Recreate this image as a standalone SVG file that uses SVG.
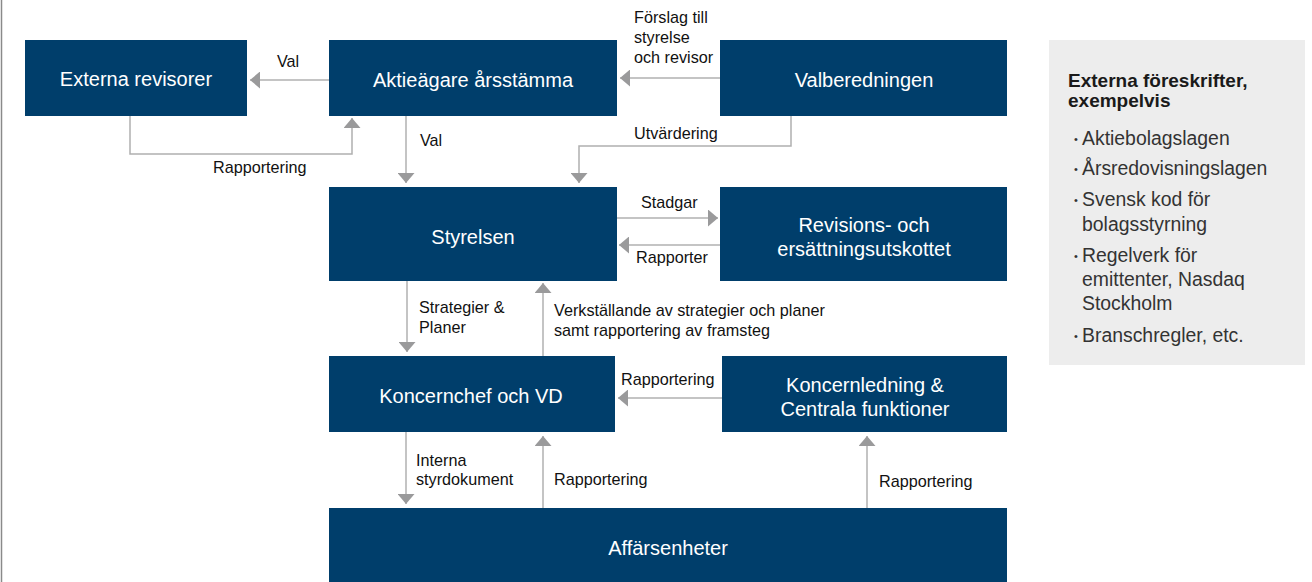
<svg xmlns="http://www.w3.org/2000/svg" width="1312" height="582" viewBox="0 0 1312 582">
<style>
.box{fill:#003e6b}
.bt{font-family:"Liberation Sans",Arial,sans-serif;font-size:20px;fill:#ffffff;text-anchor:middle}
.lb{font-family:"Liberation Sans",Arial,sans-serif;font-size:16.2px;fill:#111111}
.con{fill:none;stroke:#b0b0b0;stroke-width:1.5;marker-end:url(#ah)}
.pt{font-family:"Liberation Sans",Arial,sans-serif;font-size:19px;fill:#1a1a1a;font-weight:bold}
.pb{font-family:"Liberation Sans",Arial,sans-serif;font-size:19.4px;fill:#333333}
.dot{font-family:"Liberation Sans",Arial,sans-serif;font-size:11px;fill:#333333}
</style>
<defs>
<marker id="ah" viewBox="0 0 10 17" markerWidth="10" markerHeight="17" refX="10" refY="8.5" orient="auto" markerUnits="userSpaceOnUse">
<path d="M0,0 L10,8.5 L0,17 Z" fill="#9a9a9b"/>
</marker>
</defs>
<rect x="0" y="0" width="1312" height="582" fill="#ffffff"/>
<line x1="1.5" y1="0" x2="1.5" y2="582" stroke="#8a8a8a" stroke-width="1.5"/>

<g id="connectors">
<path class="con" d="M329,80 L250,80"/>
<path class="con" d="M720,78 L620,78"/>
<path class="con" d="M130,116 L130,154 L352,154 L352,118"/>
<path class="con" d="M406,116 L406,183"/>
<path class="con" d="M791,116 L791,146 L579,146 L579,183"/>
<path class="con" d="M617,218 L718,218"/>
<path class="con" d="M720,245 L619,245"/>
<path class="con" d="M407,281 L407,352"/>
<path class="con" d="M543,356 L543,283"/>
<path class="con" d="M722,398 L618,398"/>
<path class="con" d="M406,432 L406,504"/>
<path class="con" d="M543,508 L543,436"/>
<path class="con" d="M867,508 L867,436"/>
<text class="lb" x="277" y="67">Val</text>
<text class="lb" x="213" y="173">Rapportering</text>
<text class="lb" x="420" y="146">Val</text>
<text class="lb" x="634" y="23">Förslag till</text>
<text class="lb" x="634" y="43">styrelse</text>
<text class="lb" x="634" y="63">och revisor</text>
<text class="lb" x="634" y="139">Utvärdering</text>
<text class="lb" x="641" y="208">Stadgar</text>
<text class="lb" x="636" y="263">Rapporter</text>
<text class="lb" x="419" y="313">Strategier &amp;</text>
<text class="lb" x="419" y="333">Planer</text>
<text class="lb" x="554" y="316">Verkställande av strategier och planer</text>
<text class="lb" x="554" y="336">samt rapportering av framsteg</text>
<text class="lb" x="621" y="385">Rapportering</text>
<text class="lb" x="416" y="466">Interna</text>
<text class="lb" x="416" y="485">styrdokument</text>
<text class="lb" x="554" y="485">Rapportering</text>
<text class="lb" x="879" y="487">Rapportering</text>
</g>

<g id="externa-revisorer">
<rect class="box" x="25" y="40" width="222" height="76"/>
<text class="bt" x="136" y="86">Externa revisorer</text>
</g>
<g id="aktieagare">
<rect class="box" x="329" y="40" width="288" height="76"/>
<text class="bt" x="473" y="87">Aktieägare årsstämma</text>
</g>
<g id="valberedningen">
<rect class="box" x="720" y="40" width="287" height="76"/>
<text class="bt" x="864" y="87">Valberedningen</text>
</g>
<g id="styrelsen">
<rect class="box" x="329" y="187" width="288" height="94"/>
<text class="bt" x="473" y="244">Styrelsen</text>
</g>
<g id="revisions">
<rect class="box" x="720" y="187" width="287" height="94"/>
<text class="bt" x="864" y="232">Revisions- och</text>
<text class="bt" x="864" y="256">ersättningsutskottet</text>
</g>
<g id="koncernchef">
<rect class="box" x="329" y="356" width="286" height="76"/>
<text class="bt" x="471" y="403">Koncernchef och VD</text>
</g>
<g id="koncernledning">
<rect class="box" x="722" y="356" width="285" height="76"/>
<text class="bt" x="865" y="392">Koncernledning &amp;</text>
<text class="bt" x="865" y="416">Centrala funktioner</text>
</g>
<g id="affarsenheter">
<rect class="box" x="329" y="508" width="678" height="74"/>
<text class="bt" x="668" y="555">Affärsenheter</text>
</g>

<g id="externa-foreskrifter">
<rect x="1049" y="40" width="256" height="325" fill="#ededed"/>
<text class="pt" x="1068" y="87">Externa föreskrifter,</text>
<text class="pt" x="1068" y="107">exempelvis</text>
<text class="dot" x="1074" y="143">•</text>
<text class="pb" x="1082" y="145">Aktiebolagslagen</text>
<text class="dot" x="1074" y="173">•</text>
<text class="pb" x="1082" y="175">Årsredovisningslagen</text>
<text class="dot" x="1074" y="204">•</text>
<text class="pb" x="1082" y="206">Svensk kod för</text>
<text class="pb" x="1082" y="231">bolagsstyrning</text>
<text class="dot" x="1074" y="260">•</text>
<text class="pb" x="1082" y="262">Regelverk för</text>
<text class="pb" x="1082" y="286">emittenter, Nasdaq</text>
<text class="pb" x="1082" y="310">Stockholm</text>
<text class="dot" x="1074" y="340">•</text>
<text class="pb" x="1082" y="342">Branschregler, etc.</text>
</g>
</svg>
